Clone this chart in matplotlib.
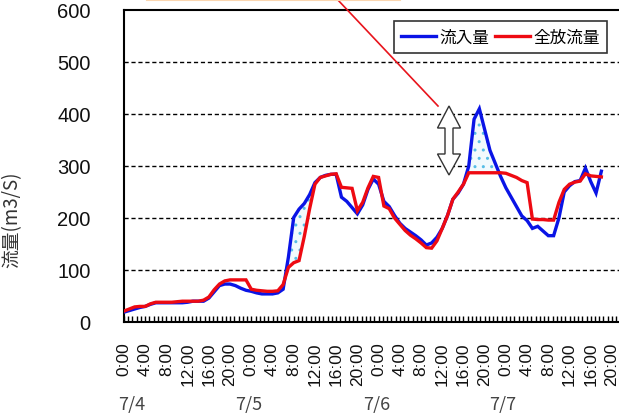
import matplotlib
matplotlib.use("Agg")
import matplotlib.pyplot as plt
import numpy as np
from matplotlib.patches import Polygon
from matplotlib.lines import Line2D

plt.rcParams['font.family'] = ['Liberation Sans', 'Noto Sans CJK JP', 'DejaVu Sans']
plt.rcParams['hatch.linewidth'] = 1.0

# hourly series from 7/4 0:00
inflow = [19, 22, 25, 28, 30, 34, 37, 37, 37, 37, 37, 37, 38, 40, 40, 40,
          46, 58, 70, 73, 73, 70, 65, 61, 59, 56, 54, 54, 54, 56, 63, 125,
          201, 217, 228, 245, 268, 278, 282, 284, 284, 240, 232, 220, 208, 225,
          255, 275, 265, 232, 222, 205, 190, 180, 173, 166, 158, 148, 152, 163,
          180, 205, 236, 248, 265, 300, 390, 410, 370, 330, 305, 280, 258, 240,
          222, 204, 195, 180, 184, 175, 166, 166, 200, 250, 262, 270, 272, 296,
          270, 248, 290]
outflow = [21, 25, 29, 30, 30, 35, 38, 38, 38, 38, 39, 40, 40, 40, 40, 42,
           48, 62, 73, 79, 81, 81, 81, 81, 63, 61, 60, 59, 59, 60, 72, 105,
           114, 118, 165, 218, 265, 278, 281, 284, 285, 259, 258, 257, 214, 230,
           258, 280, 278, 223, 218, 200, 188, 176, 167, 160, 152, 143, 142, 156,
           180, 205, 236, 250, 265, 287, 287, 287, 287, 287, 287, 287, 286, 282,
           278, 272, 268, 198, 197, 197, 196, 196, 230, 255, 265, 269, 271, 285,
           281, 280, 279]
tick_hours = list(range(0, 93, 4))
tick_labels = [f"{h % 24}:00" for h in tick_hours]
dates = ["7/4", "7/5", "7/6", "7/7"]
date_px = [132, 249, 377, 503]
yticks = [0, 100, 200, 300, 400, 500, 600]
series_names = ["流入量", "全放流量"]

W, H = 619, 414
fig = plt.figure(figsize=(W / 100, H / 100), dpi=100)
ax = fig.add_axes([124 / W, 91 / H, 1 - 124 / W, (403 - 91) / H])

hrs = np.arange(len(inflow))
bi = np.array(inflow, float)
ro = np.array(outflow, float)

ax.fill_between(hrs, ro, bi, where=bi > ro, interpolate=True,
                facecolor='#f2fafd', edgecolor='#57bde6', hatch='..', linewidth=0, zorder=1)

for y in yticks[1:-1]:
    ax.axhline(y, color='black', linestyle=(0, (3, 2)), linewidth=1.0, zorder=0.5)

lb, = ax.plot(hrs, bi, color='#0a14e6', linewidth=2.4, zorder=3, solid_joinstyle='miter')
lr, = ax.plot(hrs, ro, color='#ee0a12', linewidth=2.4, zorder=4, solid_joinstyle='miter')

xmax = (619 - 124) / 5.304
ax.set_xlim(0, xmax)
ax.set_ylim(0, 600)
ax.set_yticks(yticks)
ax.set_yticklabels([str(v) for v in yticks], fontsize=14.5, color='#111111')
ax.tick_params(axis='y', length=0, pad=24)
ax.set_xticks(tick_hours)
ax.set_xticklabels(tick_labels, rotation=90, fontsize=12.5, va='top', ha='center',
                   color='#111111')
ax.set_xticks(np.arange(0, xmax, 0.8), minor=True)
ax.tick_params(axis='x', which='both', direction='in', length=4, width=1.0, pad=14, color='black')

ax.spines['right'].set_visible(False)
for s in ['left', 'bottom', 'top']:
    ax.spines[s].set_linewidth(1.5)

ax.set_ylabel("流量(m3/S)", fontsize=13.5, family=['Noto Sans CJK JP', 'DejaVu Sans'],
              color='#333333')
ax.yaxis.set_label_coords(-(124 - 22) / 495, 0.33)

leg = ax.legend([lb, lr], series_names, loc='upper right', ncol=2,
                bbox_to_anchor=(607 / W, (414 - 22) / H), bbox_transform=fig.transFigure,
                prop={'family': ['Noto Sans CJK JP', 'DejaVu Sans'], 'size': 12},
                frameon=True, fancybox=False, edgecolor='black', handlelength=2.1,
                columnspacing=0.3, handletextpad=0.2, borderpad=0.45, borderaxespad=0)
leg.get_frame().set_linewidth(1.2)

for d, px in zip(dates, date_px):
    fig.text(px / W, (414 - 405) / H, d, ha='center', va='center', fontsize=13,
             family=['Noto Sans CJK JP', 'DejaVu Sans'], color='#444444')

# double arrow annotation
def to_data(px, py):
    return ((px - 124) / 5.304, (323 - py) / 0.52)
pts = [(449, 107), (460.5, 129), (453, 129), (453, 155), (460.5, 155), (449, 176),
       (437.5, 155), (445, 155), (445, 129), (437.5, 129)]
ax.add_patch(Polygon([to_data(*p) for p in pts], closed=True, facecolor='white',
                     edgecolor='#333333', linewidth=1.0, zorder=5))

fig.add_artist(Line2D([337 / W, 438 / W], [1.0, (414 - 107) / H], color='#e8141c',
                      linewidth=1.2))
fig.add_artist(Line2D([147 / W, 400 / W], [0.998, 0.998], color='#fbd6b0', linewidth=1.5))

fig.savefig("out.png", dpi=100)
